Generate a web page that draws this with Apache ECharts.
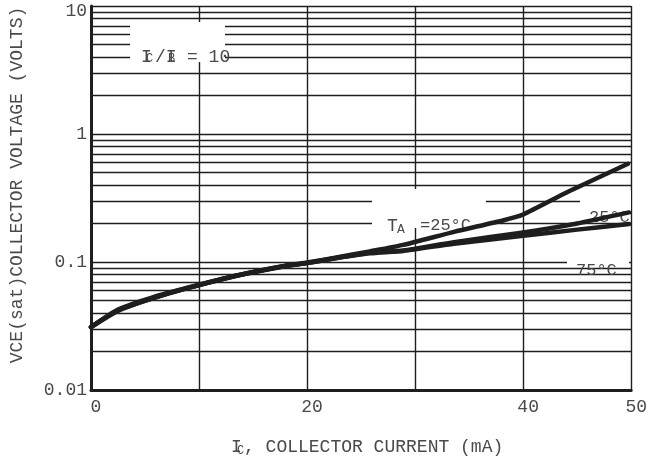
<!DOCTYPE html>
<html>
<head>
<meta charset="utf-8">
<script src="https://cdn.jsdelivr.net/npm/echarts@6/dist/echarts.min.js"></script>
<style>
  html, body { margin: 0; padding: 0; background: #fff; }
  #chart { width: 650px; height: 457px; }
</style>
</head>
<body>
<div id="chart"></div>
<script>
// ---- data ----
const xTickValues = [0, 20, 40, 50];
const xTickLabels = ['0', '20', '40', '50'];
const yDecades = [0.01, 0.1, 1, 10];
const yTickLabels = ['0.01', '0.1', '1', '10'];
const minorGridValues = [0.02, 0.03, 0.04, 0.05, 0.06, 0.07, 0.08, 0.09,
                         0.2, 0.3, 0.4, 0.5, 0.6, 0.7, 0.8, 0.9,
                         2, 3, 4, 5, 6, 7, 8, 9];

// upper curve (labelled "TA = 25°C")
const topCurrent = [0, 2.5, 5.7, 9.1, 13.5, 18.1, 20, 22.6, 25.8, 28.9, 33.6, 38.2, 40, 44.2, 49.7];
const topVoltage = [0.031, 0.0415, 0.052, 0.063, 0.0785, 0.094, 0.099, 0.108, 0.121, 0.136, 0.172, 0.212, 0.235, 0.355, 0.585];
// middle curve (labelled "25°C")
const midCurrent = [0, 2.5, 5.7, 9.1, 13.5, 18.1, 20, 22.6, 25.8, 28.9, 33.6, 40, 45, 49.8];
const midVoltage = [0.031, 0.042, 0.052, 0.063, 0.078, 0.093, 0.098, 0.107, 0.118, 0.123, 0.143, 0.17, 0.2, 0.244];
// lower curve (labelled "75°C")
const lowCurrent = [0, 2.5, 5.7, 9.1, 13.5, 18.1, 20, 22.6, 25.8, 28.9, 33.6, 40, 45, 49.8];
const lowVoltage = [0.031, 0.0425, 0.053, 0.0635, 0.0785, 0.0935, 0.098, 0.107, 0.117, 0.122, 0.139, 0.16, 0.179, 0.198];

const FONT = '"Liberation Mono", "DejaVu Sans Mono", monospace';
const TXT = '#4a4a4a';
const LINE = '#1e1e1e';

function pairs(xs, ys) { return xs.map((x, i) => [x, ys[i]]); }
function curve(name, xs, ys) {
  return {
    name: name, type: 'line', data: pairs(xs, ys), z: 5,
    showSymbol: false, smooth: 0.2, silent: true,
    lineStyle: { color: LINE, width: 4.5, cap: 'round', join: 'round' }
  };
}
function txt(text, x, y, size, extra) {
  return Object.assign({
    type: 'text', x: x, y: y, z: 3, z2: 20, silent: true,
    style: { text: text, font: size + 'px ' + FONT, fill: TXT, align: 'left', verticalAlign: 'alphabetic' }
  }, extra || {});
}
function box(x, y, w, h) {
  return { type: 'rect', z: 3, z2: 10, silent: true, shape: { x: x, y: y, width: w, height: h }, style: { fill: '#fff' } };
}

const chart = echarts.init(document.getElementById('chart'), null, { renderer: 'canvas' });
chart.setOption({
  animation: false,
  backgroundColor: '#fff',
  grid: { left: 91, right: 18, top: 6, bottom: 67, containLabel: false },
  xAxis: {
    type: 'value', min: 0, max: 50, interval: 10, z: 0,
    axisLine: { show: true, onZero: false, lineStyle: { color: LINE, width: 3 } },
    axisTick: { show: false },
    splitLine: { show: true, lineStyle: { color: LINE, width: 1.4 } },
    axisLabel: {
      margin: 8, color: TXT, fontFamily: FONT, fontSize: 18, padding: [0, 0, 0, 10],
      formatter: function (v) { const i = xTickValues.indexOf(v); return i >= 0 ? xTickLabels[i] : ''; }
    }
  },
  yAxis: {
    type: 'log', logBase: 10, min: 0.01, max: 10, z: 0,
    axisLine: { show: true, lineStyle: { color: LINE, width: 3 } },
    axisTick: { show: false },
    splitLine: { show: true, lineStyle: { color: LINE, width: 1.4 } },
    axisLabel: {
      margin: 4, color: TXT, fontFamily: FONT, fontSize: 18,
      rich: { top: { color: TXT, fontFamily: FONT, fontSize: 18, padding: [11, 0, 0, 0] } },
      formatter: function (v) {
        const i = yDecades.findIndex(d => Math.abs(Math.log10(d) - Math.log10(v)) < 1e-6);
        if (i < 0) return '';
        return i === yDecades.length - 1 ? '{top|' + yTickLabels[i] + '}' : yTickLabels[i];
      }
    }
  },
  series: [
    {
      name: 'minor grid', type: 'line', data: [], z: 1, silent: true, showSymbol: false,
      markLine: {
        z: 1,
        silent: true, symbol: ['none', 'none'], animation: false,
        label: { show: false },
        lineStyle: { color: LINE, width: 1.3, type: 'solid' },
        emphasis: { disabled: true },
        data: minorGridValues.map(v => ({ yAxis: v }))
      }
    },
    curve('TA = 25°C', topCurrent, topVoltage),
    curve('25°C', midCurrent, midVoltage),
    curve('75°C', lowCurrent, lowVoltage)
  ],
  graphic: {
    z: 3,
    elements: [
      // white label boxes
      box(130, 22, 95, 40),
      box(372, 189, 114, 39),
      box(580, 191, 51, 23),
      box(567, 248, 62, 17),
      // IC/IB = 10
      txt('I', 141, 48, 18),
      txt('C', 146, 53, 12),
      txt('/I', 155, 48, 18),
      txt('B', 168, 53, 12),
      txt('= 10', 187, 48, 18),
      // TA = 25°C
      txt('T', 387, 217, 18),
      txt('A', 397, 223, 13),
      txt('=25°C', 420, 217, 17),
      // curve labels
      txt('25°C', 589, 209, 17),
      txt('75°C', 576, 262, 17),
      // axis titles
      txt('I', 231, 438, 18),
      txt('C', 237, 445, 12),
      txt(', COLLECTOR CURRENT (mA)', 244, 438, 18),
      {
        type: 'text', x: 17, y: 185, rotation: Math.PI / 2, z: 3, z2: 20, silent: true,
        style: { text: 'VCE(sat)COLLECTOR VOLTAGE (VOLTS)', font: '18px ' + FONT, fill: TXT, align: 'center', verticalAlign: 'middle' }
      }
    ]
  }
});
</script>
</body>
</html>
